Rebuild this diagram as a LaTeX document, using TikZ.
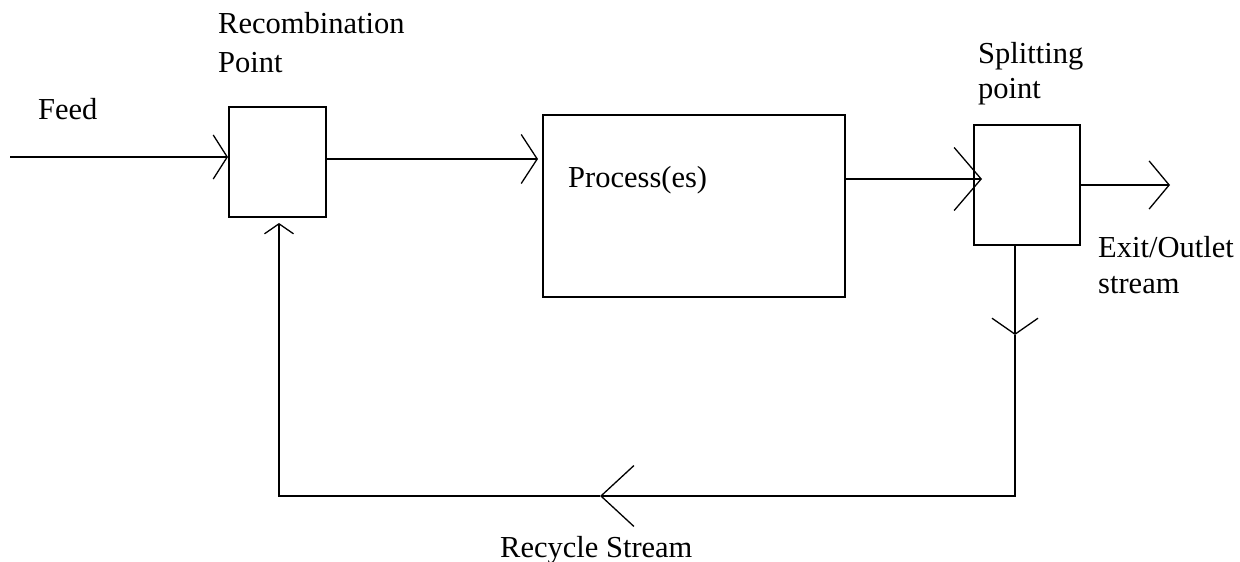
\documentclass[tikz,border=0pt]{standalone}
\usepackage{fontspec}
\setmainfont{Liberation Serif}
\usetikzlibrary{arrows.meta}
\begin{document}
\begin{tikzpicture}[x=1pt,y=-1pt,
  stream/.style={line width=2pt},
  unit/.style={draw,line width=2pt,rectangle,inner sep=0pt},
  lbl/.style={font=\fontsize{30.5}{37}\selectfont,inner sep=0pt,align=left,anchor=base west},
  barb/.style 2 args={-{Straight Barb[length=#1pt,width=#2pt,line width=1.3pt]}}
]
\useasboundingbox (0,0) rectangle (1240,562);

% units of the flow sheet
\node[unit,minimum width=97pt,minimum height=110pt] (recomb) at (277.5,162) {};
\node[unit,minimum width=302pt,minimum height=182pt] (process) at (694,206) {};
\node[unit,minimum width=106pt,minimum height=120pt] (split) at (1027,185) {};

% labels (base anchor sits on the last line)
\node[lbl] (feedlbl) at (38,119) {Feed};
\node[lbl] (recomblbl) at (218,72) {Recombination\\[2pt]Point};
\node[lbl] (proclbl) at (568,187) {Process(es)};
\node[lbl] (splitlbl) at (978,98) {Splitting\\[-2pt]point};
\node[lbl] (exitlbl) at (1098,293) {Exit/Outlet\\[-1pt]stream};
\node[lbl] (recyclbl) at (500,557) {Recycle Stream};

% stream end points and bends
\coordinate (feedin) at (10,157);
\coordinate (exitout) at (1170,185);
\coordinate (dnarrow) at (1015,335);
\coordinate (bendr) at (1015,496);
\coordinate (lfarrow) at (600,496);
\coordinate (bendl) at (279,496);

% streams
\draw[stream,barb={14}{44}] (feedin) -- (feedin -| recomb.west);
\draw[stream,barb={16}{49}] (recomb.east |- 0,159) -- ([xshift=-4pt]process.west |- 0,159);
\draw[stream,barb={27}{63}] (process.east |- 0,179) -- ([xshift=9pt]split.west |- 0,179);
\draw[stream,barb={20}{48}] (split.east |- exitout) -- (exitout);

% recycle loop
\draw[stream,barb={16}{46}] (dnarrow |- split.south) -- (dnarrow);
\draw[stream,barb={33}{61}] (dnarrow) -- (bendr) -- (lfarrow);
\draw[stream,barb={10}{29},shorten >=5pt] (lfarrow) -- (bendl) -- (bendl |- recomb.south);
\end{tikzpicture}
\end{document}
